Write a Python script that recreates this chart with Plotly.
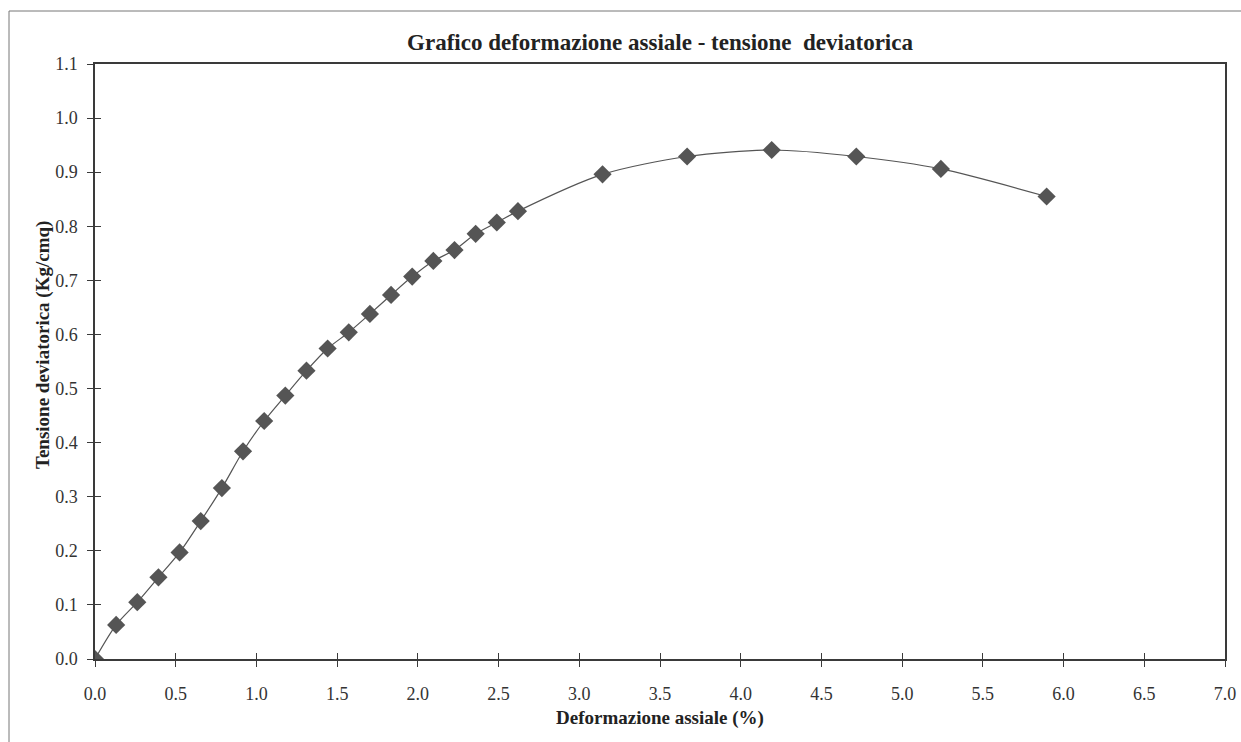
import plotly.graph_objects as go

# deformazione assiale (%) e tensione deviatorica (Kg/cmq)
deformazione = [0.000, 0.131, 0.262, 0.393, 0.524, 0.655, 0.786, 0.917, 1.048, 1.179,
                1.310, 1.441, 1.572, 1.703, 1.834, 1.965, 2.096, 2.227, 2.358, 2.489,
                2.620, 3.144, 3.668, 4.192, 4.716, 5.240, 5.895]
tensione = [0.000, 0.063, 0.105, 0.151, 0.197, 0.255, 0.316, 0.384, 0.440, 0.487,
            0.533, 0.574, 0.604, 0.638, 0.673, 0.707, 0.736, 0.756, 0.786, 0.807,
            0.828, 0.896, 0.929, 0.941, 0.929, 0.906, 0.855]

x_ticks = [i * 0.5 for i in range(15)]
y_ticks = [i * 0.1 for i in range(12)]

serif = "Liberation Serif"
grigio = "#555555"
asse = "#3a3a3a"

W, H = 1241, 742
L, T, R, B = 95, 64, 16, 83
PW, PH = W - L - R, H - T - B


def px_x(p):
    # pixel orizzontale -> coordinata paper
    return (p - L) / PW


def px_y(p):
    # pixel verticale -> coordinata paper
    return (T + PH - p) / PH


fig = go.Figure()
fig.add_trace(go.Scatter(
    x=deformazione, y=tensione,
    mode="lines+markers",
    line=dict(color=grigio, width=1.2, shape="spline", smoothing=0.8),
    marker=dict(symbol="diamond", size=14, color=grigio),
    showlegend=False,
))
# traccia invisibile per gli assi sovrapposti (tacche incrociate)
fig.add_trace(go.Scatter(
    x=deformazione, y=tensione, xaxis="x2", yaxis="y2",
    mode="markers", marker=dict(opacity=0), hoverinfo="skip", showlegend=False,
))

fig.update_layout(
    width=W, height=H,
    paper_bgcolor="white", plot_bgcolor="white",
    margin=dict(l=L, r=R, t=T, b=B),
    font=dict(family=serif, size=18, color="#333333"),
    title=dict(
        text="<b>Grafico deformazione assiale - tensione  deviatorica</b>",
        font=dict(family=serif, size=23, color="#222222"),
        x=0.5, xref="paper", xanchor="center",
        y=1 - 42 / H, yanchor="middle",
    ),
    xaxis=dict(
        range=[0, 7], tickvals=x_ticks, tickformat=".1f",
        showgrid=False, zeroline=False,
        showline=True, linecolor=asse, linewidth=1.5, mirror=True,
        ticks="outside", ticklen=6, tickcolor=asse,
        ticklabelstandoff=12, automargin=False,
        tickfont=dict(family=serif, size=18, color="#333333"),
    ),
    yaxis=dict(
        range=[0, 1.1], tickvals=y_ticks, tickformat=".1f",
        showgrid=False, zeroline=False,
        showline=True, linecolor=asse, linewidth=1.5, mirror=True,
        ticks="outside", ticklen=6, tickcolor=asse,
        ticklabelstandoff=6, automargin=False,
        tickfont=dict(family=serif, size=18, color="#333333"),
    ),
    xaxis2=dict(
        range=[0, 7], tickvals=x_ticks, overlaying="x", anchor="y2",
        showgrid=False, zeroline=False, showline=False, showticklabels=False,
        ticks="inside", ticklen=6, tickcolor=asse,
    ),
    yaxis2=dict(
        range=[0, 1.1], tickvals=y_ticks, overlaying="y", anchor="x2",
        showgrid=False, zeroline=False, showline=False, showticklabels=False,
        ticks="inside", ticklen=6, tickcolor=asse,
    ),
    annotations=[
        dict(text="<b>Deformazione assiale (%)</b>", xref="paper", yref="paper",
             x=0.5, y=px_y(718), xanchor="center", yanchor="middle", showarrow=False,
             font=dict(family=serif, size=19, color="#222222")),
        dict(text="<b>Tensione deviatorica (Kg/cmq)</b>", xref="paper", yref="paper",
             x=px_x(43), y=px_y(345), xanchor="center", yanchor="middle",
             showarrow=False, textangle=-90,
             font=dict(family=serif, size=19, color="#222222")),
    ],
    shapes=[
        # bordo esterno dell'area del grafico
        dict(type="rect", xref="paper", yref="paper",
             x0=px_x(9), x1=px_x(1260),
             y0=px_y(760), y1=px_y(11),
             line=dict(color="#777777", width=1)),
    ],
)

# niente margine della pagina, niente barre di scorrimento, niente modebar
fig.write_html("out.html", config={"displayModeBar": False},
               post_script="document.body.style.margin='0';"
                           "document.body.style.overflow='hidden';")
